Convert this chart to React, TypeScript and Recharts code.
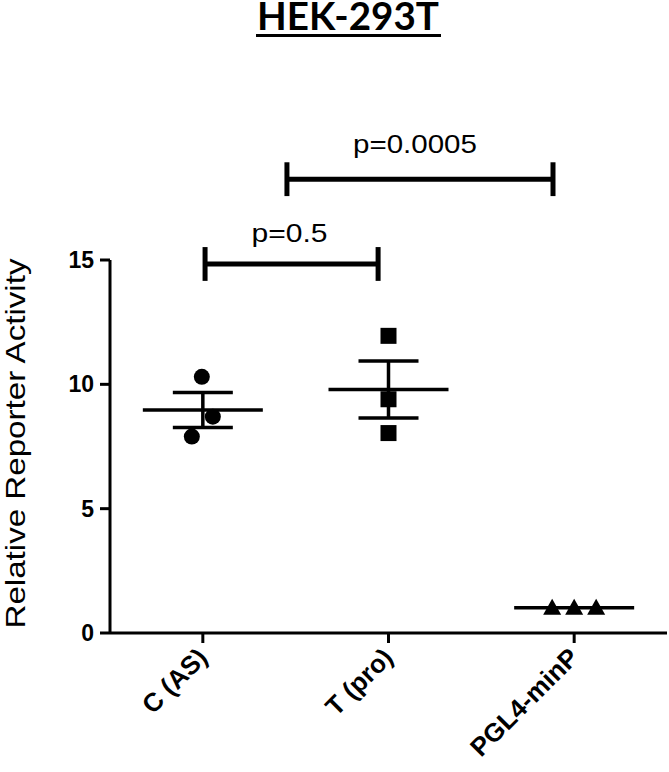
import React from 'react';
import { ScatterChart, Scatter, XAxis, YAxis, ErrorBar, ReferenceLine } from 'recharts';

// ---------- data ----------
const chartTitle = 'HEK-293T';
const categories = ['C (AS)', 'T (pro)', 'PGL4-minP'];
const cAsValues = [10.3, 8.7, 7.9];
const tProValues = [11.95, 9.4, 8.04];
const pgl4Values = [1.02, 1.02, 1.02];
const yTicks = [0, 5, 10, 15];
const xTicks = [0, 1, 2];
const pLabels = ['p=0.5', 'p=0.0005'];
const bracketLevels = [14.84, 18.25];

// ---------- layout constants (not data) ----------
const JITTER_PX = [
  [-1, 10, -11],
  [0, 0, 0],
  [-22, 0, 22],
];
const BRACKET_X = [
  [0.012, 0.944],
  [0.453, 1.886],
];
const P_LABEL_STYLE = [
  { offset: 22, width: 76, dx: -2 },
  { offset: 26, width: 124, dx: -5 },
];
const CAP = 0.68;
const BLACK = '#000000';
const SANS = "'Liberation Sans', Arial, sans-serif";

const groups = [cAsValues, tProValues, pgl4Values];

const mean = (a: number[]) => a.reduce((s, v) => s + v, 0) / a.length;
const sem = (a: number[]) => {
  const m = mean(a);
  const sd = Math.sqrt(a.reduce((s, v) => s + (v - m) * (v - m), 0) / (a.length - 1));
  return sd / Math.sqrt(a.length);
};

const pointRows = groups.map((vals, gi) => vals.map((v, i) => ({ x: gi, y: v, j: JITTER_PX[gi][i] })));
const meanRows = groups.map((vals, gi) => ({ x: gi, y: mean(vals), err: sem(vals) }));

const Circle = (p: any) => (
  <circle cx={p.cx + p.payload.j} cy={p.cy} r={8} fill={BLACK} />
);
const Square = (p: any) => (
  <rect x={p.cx + p.payload.j - 8} y={p.cy - 8} width={16} height={16} fill={BLACK} />
);
const Triangle = (p: any) => {
  const cx = p.cx + p.payload.j;
  const cy = p.cy;
  return <polygon points={`${cx},${cy - 9} ${cx + 9},${cy + 7} ${cx - 9},${cy + 7}`} fill={BLACK} />;
};
const MeanLine = (p: any) => (
  <line x1={p.cx - 60} x2={p.cx + 60} y1={p.cy} y2={p.cy} stroke={BLACK} strokeWidth={3.5} />
);

const XTick = (p: any) => {
  const { x, y, payload } = p;
  const tx = x + 6;
  const ty = y + 14;
  return (
    <text
      x={tx}
      y={ty}
      transform={`rotate(-45 ${tx} ${ty})`}
      textAnchor="end"
      fontFamily={SANS}
      fontWeight="bold"
      fontSize={26}
      fill={BLACK}
    >
      {categories[payload.value]}
    </text>
  );
};

const YLabel = (p: any) => {
  const vb = p.viewBox;
  const cx = 25;
  const cy = vb.y + vb.height / 2 - 3;
  return (
    <text
      x={cx}
      y={cy}
      transform={`rotate(-90 ${cx} ${cy})`}
      textAnchor="middle"
      fontFamily={SANS}
      fontSize={28}
      textLength={370}
      lengthAdjust="spacingAndGlyphs"
      fill={BLACK}
    >
      Relative Reporter Activity
    </text>
  );
};

const PLabel = (p: any) => {
  const vb = p.viewBox;
  const st = P_LABEL_STYLE[p.idx];
  const cx = vb.x + vb.width / 2 + st.dx;
  const cy = vb.y - st.offset;
  return (
    <text
      x={cx}
      y={cy}
      textAnchor="middle"
      fontFamily={SANS}
      fontSize={26}
      textLength={st.width}
      lengthAdjust="spacingAndGlyphs"
      fill={BLACK}
    >
      {pLabels[p.idx]}
    </text>
  );
};

export default function App() {
  return (
    <div style={{ position: 'absolute', left: 0, top: 0, width: 669, height: 772, background: '#fff' }}>
      <svg width={669} height={50} style={{ position: 'absolute', left: 0, top: 0 }}>
        <text
          x={348}
          y={30}
          textAnchor="middle"
          fontFamily="Lato, sans-serif"
          fontWeight="bold"
          fontSize={39}
          textLength={182}
          lengthAdjust="spacingAndGlyphs"
          fill={BLACK}
        >
          {chartTitle}
        </text>
        <line x1={256} x2={441} y1={35.5} y2={35.5} stroke={BLACK} strokeWidth={3} />
      </svg>
      <ScatterChart
        width={669}
        height={772}
        margin={{ top: 260, right: 2, left: 0, bottom: 0 }}
        style={{ position: 'absolute', left: 0, top: 0 }}
      >
        <XAxis
          type="number"
          dataKey="x"
          domain={[-0.5, 2.5]}
          ticks={xTicks}
          interval={0}
          height={139}
          tick={<XTick />}
          tickSize={10}
          axisLine={{ stroke: BLACK, strokeWidth: 3 }}
          tickLine={{ stroke: BLACK, strokeWidth: 3 }}
        />
        <YAxis
          type="number"
          dataKey="y"
          domain={[0, 15]}
          ticks={yTicks}
          width={110}
          tickSize={10}
          tickMargin={6}
          axisLine={{ stroke: BLACK, strokeWidth: 3 }}
          tickLine={{ stroke: BLACK, strokeWidth: 3 }}
          tick={{ fill: BLACK, fontSize: 23, fontWeight: 'bold', fontFamily: SANS }}
          label={<YLabel />}
        />
        <Scatter data={meanRows} shape={<MeanLine />} isAnimationActive={false}>
          <ErrorBar dataKey="err" direction="y" width={30} stroke={BLACK} strokeWidth={3.5} isAnimationActive={false} />
        </Scatter>
        <Scatter data={pointRows[0]} shape={<Circle />} isAnimationActive={false} />
        <Scatter data={pointRows[1]} shape={<Square />} isAnimationActive={false} />
        <Scatter data={pointRows[2]} shape={<Triangle />} isAnimationActive={false} />
        {bracketLevels.map((lvl, bi) => (
          <ReferenceLine
            key={`h${bi}`}
            segment={[
              { x: BRACKET_X[bi][0], y: lvl },
              { x: BRACKET_X[bi][1], y: lvl },
            ]}
            ifOverflow="visible"
            stroke={BLACK}
            strokeWidth={5}
            label={<PLabel idx={bi} />}
          />
        ))}
        {bracketLevels.map((lvl, bi) =>
          BRACKET_X[bi].map((bx, k) => (
            <ReferenceLine
              key={`c${bi}-${k}`}
              segment={[
                { x: bx, y: lvl - CAP },
                { x: bx, y: lvl + CAP },
              ]}
              ifOverflow="visible"
              stroke={BLACK}
              strokeWidth={5}
            />
          ))
        )}
      </ScatterChart>
    </div>
  );
}
